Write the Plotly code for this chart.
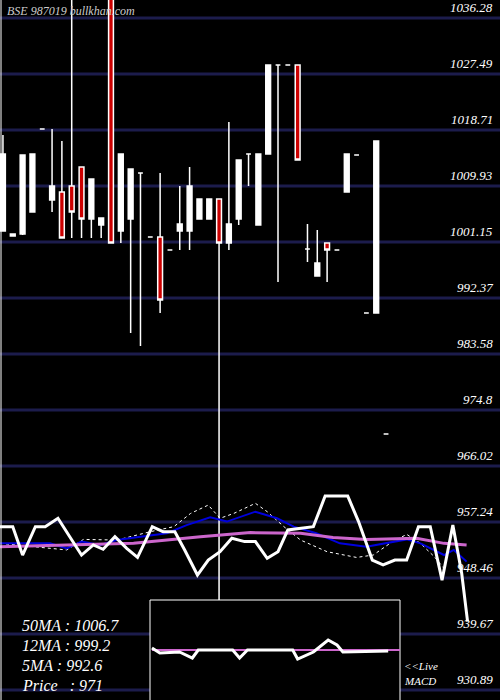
import plotly.graph_objects as go

# daily candles (price)
days = list(range(40))
highs = [1017.93, 1002.41, 1014.80, 1014.95, 1018.87, 1018.87, 1016.99, 1045.0, 1012.91, 1011.03,
         1004.92, 1045.0, 1014.95, 1012.60, 1011.97, 1001.94, 1011.97, 999.90, 1009.93, 1012.91,
         1007.90, 1007.90, 1007.90, 1019.97, 1014.01, 1014.95, 1014.95, 1028.91, 1028.91, 1028.91,
         1028.91, 1003.98, 1003.03, 1000.99, 999.90, 1014.95, 1014.80, 990.02, 1016.99, 971.04]
tops = [1014.95, 1002.41, 1014.80, 1014.95, 1018.87, 1009.93, 1008.99, 1009.93, 1012.91, 1011.03,
        1004.92, 1045.0, 1014.95, 1012.60, 1011.97, 1001.94, 1001.94, 999.90, 1003.98, 1009.93,
        1007.90, 1007.90, 1007.90, 1003.98, 1014.01, 1014.95, 1014.95, 1028.91, 1028.91, 1028.91,
        1028.91, 1000.05, 997.86, 1000.99, 999.90, 1014.95, 1014.80, 990.02, 1016.99, 971.04]
bottoms = [1002.88, 1002.10, 1002.41, 1005.86, 1018.87, 1007.74, 1001.78, 1005.86, 1004.76, 1004.76,
           1003.82, 1000.99, 1002.88, 1004.76, 1011.97, 1001.94, 992.06, 999.90, 1002.88, 1002.88,
           1004.76, 1004.76, 1000.99, 1000.99, 1004.76, 1014.95, 1003.82, 1014.95, 1028.91, 1028.91,
           1014.01, 1000.05, 995.82, 999.90, 999.90, 1008.99, 1014.80, 990.02, 990.02, 971.04]
lows = [1002.88, 1002.10, 1002.25, 1005.86, 1018.87, 1005.86, 1001.78, 1001.78, 1001.78, 1001.78,
        1001.78, 1000.99, 1000.99, 986.88, 984.84, 1001.94, 990.02, 999.90, 999.90, 999.90,
        1004.76, 1004.76, 945.0, 999.90, 1003.82, 1009.93, 1003.82, 1014.95, 994.88, 1028.91,
        1014.01, 998.02, 995.82, 994.88, 999.90, 1008.99, 1014.80, 990.02, 990.02, 971.04]
red_days = [1, 6, 7, 8, 11, 16, 22, 30, 33]

price_ticks = [1036.28, 1027.49, 1018.71, 1009.93, 1001.15, 992.37, 983.58, 974.8,
               966.02, 957.24, 948.46, 939.67, 930.89]

# indicator panel (level 0..100)
macd_x = [-0.3, 1.0, 2.0, 3.3, 4.3, 5.6, 6.8, 8.0, 9.2, 10.2, 11.4, 12.6, 13.7, 15.2, 16.3, 17.5,
          18.5, 19.8, 20.9, 22.1, 23.3, 24.6, 25.7, 26.9, 28.0, 29.0, 31.6, 32.8, 35.1, 36.2, 37.6,
          38.7, 39.9, 41.1, 42.3, 43.5, 44.7, 45.8, 46.7, 47.3]
macd_y = [78.8, 78.8, 65.9, 78.8, 78.8, 82.6, 74.2, 65.9, 70.5, 68.5, 74.2, 68.9, 64.8, 78.8, 76.5,
          76.5, 68.2, 56.8, 63.6, 67.4, 73.5, 72.0, 72.0, 64.4, 67.4, 77.3, 78.8, 92.7, 92.7, 81.1,
          63.6, 61.4, 63.6, 63.6, 78.8, 78.8, 54.5, 79.5, 57.6, 35.6]
blue_x = [-0.3, 4.8, 6.5, 8.0, 9.9, 11.6, 14.0, 16.7, 18.7, 21.1, 22.8, 25.7, 27.9, 29.6, 31.9,
          34.3, 37.0, 38.7, 41.1, 42.5, 44.9, 45.9, 47.2]
blue_y = [71.2, 71.2, 68.9, 72.0, 70.5, 72.7, 74.2, 75.8, 79.5, 83.0, 81.1, 85.6, 82.6, 78.8, 75.8,
          71.2, 69.7, 71.2, 73.0, 71.2, 65.9, 68.2, 62.9]
pink_x = [-0.3, 6.5, 13.3, 20.1, 25.2, 30.3, 33.6, 37.0, 42.1, 44.9, 47.2]
pink_y = [69.7, 70.5, 71.2, 74.2, 76.1, 75.8, 73.9, 73.0, 73.5, 71.2, 70.5]
dot_x = [-0.3, 6.5, 8.2, 11.6, 15.0, 17.4, 19.1, 20.9, 22.1, 23.5, 25.7, 26.9, 28.6, 30.3, 33.0,
         36.0, 37.7, 39.4, 41.1, 42.5, 43.9, 44.9]
dot_y = [71.2, 68.2, 73.0, 72.7, 76.5, 78.8, 84.8, 88.6, 82.6, 84.8, 89.4, 85.6, 78.8, 72.7, 67.4,
         64.8, 65.9, 71.2, 75.3, 71.2, 65.2, 59.8]

# live MACD inset
inset_x = [15.2, 16.0, 18.0, 19.3, 19.9, 23.4, 24.1, 24.9, 29.5, 30.0, 31.6, 33.1, 34.0, 34.6, 39.2]
inset_y = [0.2, -0.3, -0.2, -0.8, 0, 0, -0.8, 0, 0, -0.9, -0.2, 1.0, 0.5, -0.2, -0.1]

opens = [b if i not in red_days else t for i, (t, b) in enumerate(zip(tops, bottoms))]
closes = [t if i not in red_days else b for i, (t, b) in enumerate(zip(tops, bottoms))]

fig = go.Figure()
fig.add_trace(go.Candlestick(
    x=days, open=opens, high=highs, low=lows, close=closes,
    increasing=dict(fillcolor='white', line=dict(color='white', width=1.5)),
    decreasing=dict(fillcolor='#cc0000', line=dict(color='white', width=1.5)),
    whiskerwidth=0, showlegend=False, hoverinfo='skip'))

fig.add_trace(go.Scatter(x=dot_x, y=dot_y, yaxis='y2', mode='lines',
                         line=dict(color='white', width=1, dash='dot'), showlegend=False))
fig.add_trace(go.Scatter(x=blue_x, y=blue_y, yaxis='y2', mode='lines',
                         line=dict(color='#0000dd', width=2), showlegend=False))
fig.add_trace(go.Scatter(x=pink_x, y=pink_y, yaxis='y2', mode='lines',
                         line=dict(color='#cc66cc', width=3), showlegend=False))
fig.add_trace(go.Scatter(x=macd_x, y=macd_y, yaxis='y2', mode='lines',
                         line=dict(color='white', width=3), showlegend=False))

fig.add_trace(go.Scatter(x=[inset_x[0], 40.4], y=[0, 0], xaxis='x2', yaxis='y3', mode='lines',
                         line=dict(color='#cc66cc', width=2), showlegend=False))
fig.add_trace(go.Scatter(x=inset_x, y=inset_y, xaxis='x2', yaxis='y3', mode='lines',
                         line=dict(color='white', width=3), showlegend=False))

serif = dict(family='Liberation Serif', color='white')
ann = []
for p in price_ticks:
    ann.append(dict(x=0.99, xref='paper', y=p, yref='y', text=f'<i>{p:g}</i>',
                    xanchor='right', yanchor='bottom', yshift=1, showarrow=False,
                    font=dict(size=13, **serif)))
ann.append(dict(x=0.01, xref='paper', y=1, yref='paper', text='<i>BSE 987019 bullkhan.com</i>',
                xanchor='left', yanchor='top', showarrow=False, yshift=-2,
                font=dict(size=12, family='Liberation Serif', color='#cccccc')))
for txt, yy in [('50MA : 1006.7', 625), ('12MA : 999.2', 645),
                ('5MA : 992.6', 665), ('Price   : 971', 685)]:
    ann.append(dict(x=0.04, xref='paper', y=1 - yy / 700, yref='paper', text=f'<i>{txt}</i>',
                    showarrow=False, xanchor='left', yanchor='middle', font=dict(size=16, **serif)))
ann.append(dict(x=0.803, xref='paper', y=1 - 666 / 700, yref='paper', text='<i>&lt;&lt;Live</i>',
                showarrow=False, xanchor='left', yanchor='middle', font=dict(size=11, **serif)))
ann.append(dict(x=0.803, xref='paper', y=1 - 681 / 700, yref='paper', text='<i>MACD</i>',
                showarrow=False, xanchor='left', yanchor='middle', font=dict(size=11, **serif)))

shapes = [dict(type='line', xref='paper', yref='y', x0=0, x1=1, y0=p, y1=p,
               line=dict(color='#1c1c4c', width=3), layer='below') for p in price_ticks]
shapes.append(dict(type='rect', xref='paper', yref='paper', x0=0.3, x1=0.8, y0=-0.01, y1=100 / 700,
                   fillcolor='black', line=dict(color='white', width=1), layer='below'))
shapes.append(dict(type='line', xref='paper', yref='paper', x0=0.002, x1=0.002, y0=0, y1=1,
                   line=dict(color='white', width=1)))

fig.update_layout(
    width=500, height=700, margin=dict(l=0, r=0, t=0, b=0),
    paper_bgcolor='black', plot_bgcolor='rgba(0,0,0,0)',
    xaxis=dict(range=[-0.3, 50.6], visible=False, rangeslider=dict(visible=False), fixedrange=True),
    yaxis=dict(range=[929.33, 1039.1], visible=False, domain=[0, 1]),
    yaxis2=dict(range=[0, 100], visible=False, domain=[0, 220 / 700], anchor='x'),
    xaxis2=dict(range=[15.0, 40.4], visible=False, domain=[0.3, 0.8], anchor='y3'),
    yaxis3=dict(range=[-5, 5], visible=False, domain=[0, 100 / 700], anchor='x2'),
    shapes=shapes, annotations=ann,
)

fig.write_html("out.html", config={'displayModeBar': False},
               post_script="document.body.style.margin='0';document.body.style.overflow='hidden';")
